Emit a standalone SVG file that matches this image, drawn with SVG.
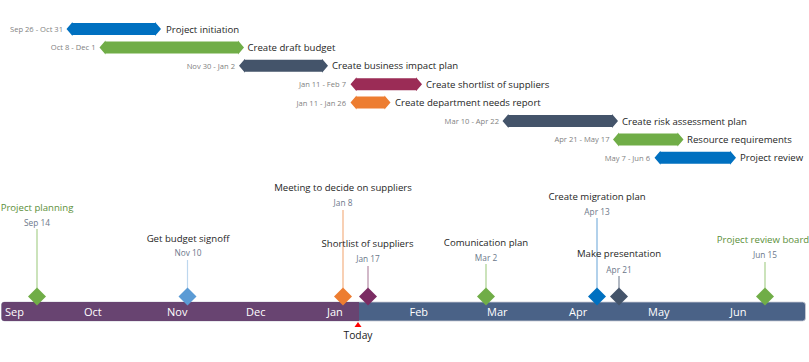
<svg xmlns="http://www.w3.org/2000/svg" width="809" height="362" viewBox="0 0 809 362">
<style>
text{font-family:"Open Sans","Noto Sans",sans-serif}
.dt{font-size:7.6px;fill:#7f7f7f;text-anchor:end}
.tt{font-size:9.6px;fill:#262626}
.mt{font-size:9.6px;fill:#262626;text-anchor:middle}
.mg{font-size:9.6px;fill:#5b8f3a;text-anchor:middle}
.md{font-size:8.3px;fill:#6b778a;text-anchor:middle}
.mo{font-size:11px;fill:#ffffff}
.blue{fill:#0070c0}.green{fill:#70ad47}.dark{fill:#44546a}.berry{fill:#9b2c56}.orange{fill:#ed7d31}
</style>
<rect width="809" height="362" fill="#ffffff"/>
<g id="tasks">
<g id="task1"><polygon class="blue" points="66.5,29 72.5,22 72.5,23 155,23 155,22 161,29 155,36 155,35 72.5,35 72.5,36"/><text class="dt" x="63" y="32">Sep 26 - Oct 31</text><text class="tt" x="166" y="32.5">Project initiation</text></g>
<g id="task2"><polygon class="green" points="99.5,47.4 105.5,40.4 105.5,41.4 238,41.4 238,40.4 244,47.4 238,54.4 238,53.4 105.5,53.4 105.5,54.4"/><text class="dt" x="95.5" y="50.4">Oct 8 - Dec 1</text><text class="tt" x="247.5" y="50.9">Create draft budget</text></g>
<g id="task3"><polygon class="dark" points="239,65.8 245,58.8 245,59.8 322,59.8 322,58.8 328,65.8 322,72.8 322,71.8 245,71.8 245,72.8"/><text class="dt" x="235" y="68.8">Nov 30 - Jan 2</text><text class="tt" x="332" y="69.3">Create business impact plan</text></g>
<g id="task4"><polygon class="berry" points="350.5,84.2 356.5,77.2 356.5,78.2 416,78.2 416,77.2 422,84.2 416,91.2 416,90.2 356.5,90.2 356.5,91.2"/><text class="dt" x="346" y="87.2">Jan 11 - Feb 7</text><text class="tt" x="426" y="87.7">Create shortlist of suppliers</text></g>
<g id="task5"><polygon class="orange" points="350.5,102.6 356.5,95.6 356.5,96.6 384.5,96.6 384.5,95.6 390.5,102.6 384.5,109.6 384.5,108.6 356.5,108.6 356.5,109.6"/><text class="dt" x="346" y="105.6">Jan 11 - Jan 26</text><text class="tt" x="395" y="106.1">Create department needs report</text></g>
<g id="task6"><polygon class="dark" points="502.5,121 508.5,114 508.5,115 612,115 612,114 618,121 612,128 612,127 508.5,127 508.5,128"/><text class="dt" x="499" y="124">Mar 10 - Apr 22</text><text class="tt" x="622" y="124.5">Create risk assessment plan</text></g>
<g id="task7"><polygon class="green" points="613,139.4 619,132.4 619,133.4 677.5,133.4 677.5,132.4 683.5,139.4 677.5,146.4 677.5,145.4 619,145.4 619,146.4"/><text class="dt" x="609.5" y="142.4">Apr 21 - May 17</text><text class="tt" x="687" y="142.9">Resource requirements</text></g>
<g id="task8"><polygon class="blue" points="654.5,157.8 660.5,150.8 660.5,151.8 730,151.8 730,150.8 736,157.8 730,164.8 730,163.8 660.5,163.8 660.5,164.8"/><text class="dt" x="650" y="160.8">May 7 - Jun 6</text><text class="tt" x="740" y="161.3">Project review</text></g>
</g>
<g id="timeline">
<rect x="1.5" y="302" width="804" height="19" rx="3" fill="#4a6287" stroke="#c9ccd6" stroke-width="0.8"/>
<path d="M359,302 H4.5 A3,3 0 0 0 1.5,305 V318 A3,3 0 0 0 4.5,321 H359 Z" fill="#684471"/>
<text class="mo" x="5" y="316">Sep</text>
<text class="mo" x="84" y="316">Oct</text>
<text class="mo" x="167" y="316">Nov</text>
<text class="mo" x="246" y="316">Dec</text>
<text class="mo" x="327" y="316">Jan</text>
<text class="mo" x="409.5" y="316">Feb</text>
<text class="mo" x="487" y="316">Mar</text>
<text class="mo" x="569" y="316">Apr</text>
<text class="mo" x="648" y="316">May</text>
<text class="mo" x="730" y="316">Jun</text>
</g>
<g id="connectors" stroke-width="1.2">
<line x1="37" y1="229" x2="37" y2="288" stroke="#a9d08e"/>
<line x1="187.5" y1="260" x2="187.5" y2="288" stroke="#bdd7ee"/>
<line x1="343" y1="210" x2="343" y2="288" stroke="#f4b183"/>
<line x1="368" y1="266" x2="368" y2="288" stroke="#b48aa5"/>
<line x1="486" y1="264" x2="486" y2="288" stroke="#a9d08e"/>
<line x1="597" y1="218" x2="597" y2="288" stroke="#7fb2de"/>
<line x1="619" y1="276" x2="619" y2="288" stroke="#7f8a9c"/>
<line x1="765" y1="262" x2="765" y2="288" stroke="#a9d08e"/>
</g>
<g id="m1"><text class="mg" x="37" y="211">Project planning</text><text class="md" x="37" y="226">Sep 14</text><polygon fill="#70ad47" points="37,287.5 46,296.5 37,305.5 28,296.5"/></g>
<g id="m2"><text class="mt" x="188" y="242">Get budget signoff</text><text class="md" x="188" y="256">Nov 10</text><polygon fill="#5b9bd5" points="187.5,287.5 196.5,296.5 187.5,305.5 178.5,296.5"/></g>
<g id="m3"><text class="mt" x="343" y="191">Meeting to decide on suppliers</text><text class="md" x="343" y="206">Jan 8</text><polygon fill="#ed7d31" points="343,287.5 352,296.5 343,305.5 334,296.5"/></g>
<g id="m4"><text class="mt" x="367.5" y="247">Shortlist of suppliers</text><text class="md" x="368" y="262">Jan 17</text><polygon fill="#7b2c63" points="368,287.5 377,296.5 368,305.5 359,296.5"/></g>
<g id="m5"><text class="mt" x="486" y="246">Comunication plan</text><text class="md" x="486" y="261">Mar 2</text><polygon fill="#70ad47" points="486,287.5 495,296.5 486,305.5 477,296.5"/></g>
<g id="m6"><text class="mt" x="597" y="200">Create migration plan</text><text class="md" x="597" y="215">Apr 13</text><polygon fill="#0070c0" points="597,287.5 606,296.5 597,305.5 588,296.5"/></g>
<g id="m7"><text class="mt" x="619" y="257">Make presentation</text><text class="md" x="619" y="273">Apr 21</text><polygon fill="#44546a" points="619,287.5 628,296.5 619,305.5 610,296.5"/></g>
<g id="m8"><text class="mg" x="763" y="243" font-size="9.2">Project review board</text><text class="md" x="765" y="258">Jun 15</text><polygon fill="#70ad47" points="765,287.5 774,296.5 765,305.5 756,296.5"/></g>
<g id="today"><polygon fill="#ff0000" points="358,322 361.5,327 354.5,327"/><text x="358" y="339" font-size="10.3" fill="#1a1a1a" text-anchor="middle">Today</text></g>
</svg>
